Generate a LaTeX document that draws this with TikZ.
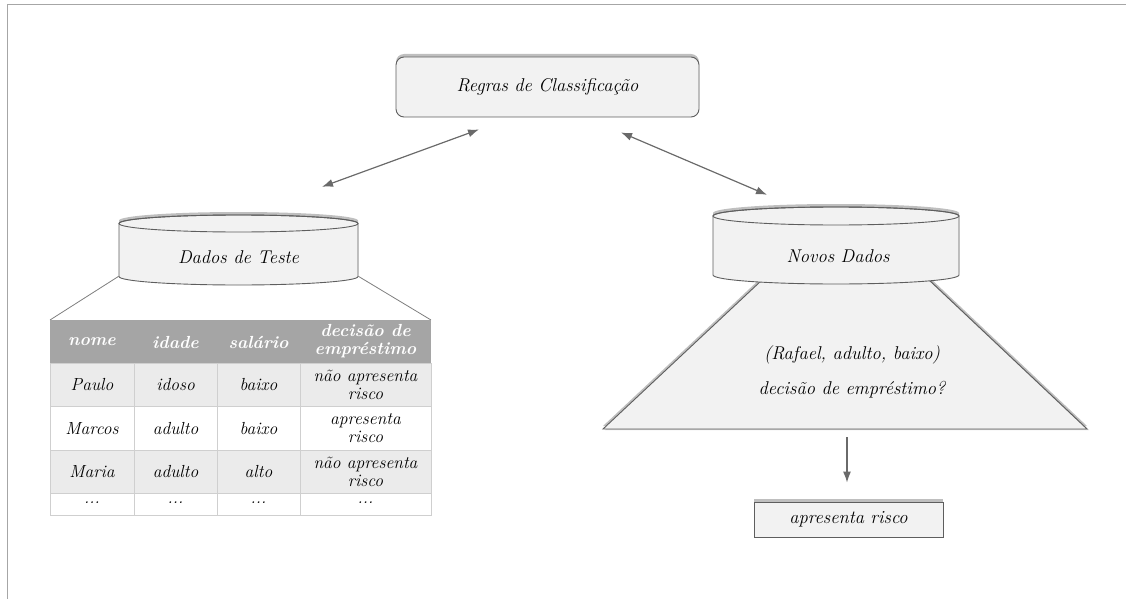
\documentclass[tikz,border=0pt]{standalone}
\usetikzlibrary{arrows.meta,shadows}

\definecolor{linegray}{HTML}{5E5E5E}
\definecolor{boxfill}{HTML}{F2F2F2}
\definecolor{headgray}{HTML}{A5A5A5}
\definecolor{rowgray}{HTML}{EBEBEB}
\definecolor{gridgray}{HTML}{CFCFCF}
\definecolor{arrowgray}{HTML}{6A6A6A}

\tikzset{
  topshadow/.style={drop shadow={shadow xshift=0pt,shadow yshift=3pt,
      fill=black,opacity=.25}},
  roundbox/.style={draw=linegray,fill=boxfill,line width=0.9pt,
      rounded corners=8pt,topshadow},
  resultbox/.style={draw=linegray,fill=boxfill,line width=0.9pt,topshadow},
  cylbody/.style={draw=linegray,fill=boxfill,line width=0.9pt,topshadow},
  dblarrow/.style={arrowgray,line width=1.2pt,
      {Latex[length=11pt,width=8pt]}-{Latex[length=11pt,width=8pt]}},
  onearrow/.style={arrowgray,line width=1.2pt,-{Latex[length=11pt,width=8pt]}},
  cell/.style={font=\itshape\fontsize{17.5}{18}\selectfont,align=center,inner sep=0pt},
  headcell/.style={cell,text=white,font=\bfseries\itshape\fontsize{17.5}{18}\selectfont}
}

\begin{document}
\begin{tikzpicture}[x=1pt,y=1pt,
    every node/.style={font=\itshape\fontsize{18.5}{20}\selectfont,text=black}]
  \useasboundingbox (0,-599) rectangle (1126,0);

  % page frame (top and left only)
  \draw[gray!70,line width=1pt] (7,-599) -- (7,-5) -- (1126,-5);

  % rules box
  \node[roundbox,minimum width=303pt,minimum height=60pt] (regras)
    at (547.5,-87) {Regras de Classifica\c{c}\~ao};

  % test data cylinder
  \draw[cylbody] (119,-223.5) -- (119,-276.5)
    arc[start angle=180,end angle=360,x radius=119.5,y radius=8.5]
    -- (358,-223.5)
    arc[start angle=0,end angle=180,x radius=119.5,y radius=8.5] -- cycle;
  \draw[linegray,line width=0.9pt] (238.5,-223.5) ellipse[x radius=119.5,y radius=8.5];
  \node[minimum width=239pt,minimum height=70pt] (teste) at (238.5,-250) {};
  \node (testetxt) at (238.5,-257) {Dados de Teste};

  % table
  \coordinate (tabNW) at (50,-320);
  \coordinate (tabNE) at (431,-320);
  \draw[linegray!80,line width=0.8pt] ([yshift=9pt]teste.south west) -- (tabNW);
  \draw[linegray!80,line width=0.8pt] ([yshift=9pt]teste.south east) -- (tabNE);
  \fill[headgray] (50,-320) rectangle (431,-363);
  \fill[rowgray] (50,-363) rectangle (431,-406.5);
  \fill[rowgray] (50,-450) rectangle (431,-493);
  \foreach \ya in {-363,-406.5,-450,-493}
    \draw[gridgray,line width=0.8pt] (50,\ya) -- (431,\ya);
  \foreach \xa in {134,217,300}
    \draw[gridgray,line width=0.8pt] (\xa,-363) -- (\xa,-515);
  \draw[gridgray,line width=0.8pt] (50,-363) -- (50,-515) -- (431,-515) -- (431,-363);

  \node[headcell] (h1) at (92,-342) {nome};
  \node[headcell] (h2) at (175.5,-342) {idade};
  \node[headcell] (h3) at (258.5,-342) {sal\'ario};
  \node[headcell] (h4) at (365.5,-341.5) {decis\~ao de\\empr\'estimo};

  \foreach \r/\ya/\na/\ia/\sa/\da in {
      1/-385/Paulo/idoso/baixo/{n\~ao apresenta\\risco},
      2/-428.5/Marcos/adulto/baixo/{apresenta\\risco},
      3/-471.5/Maria/adulto/alto/{n\~ao apresenta\\risco},
      4/-503/{...}/{...}/{...}/{...}} {
    \node[cell] (c\r-1) at (92,\ya) {\na};
    \node[cell] (c\r-2) at (175.5,\ya) {\ia};
    \node[cell] (c\r-3) at (258.5,\ya) {\sa};
    \node[cell] (c\r-4) at (365.5,\ya) {\da};
  }

  % new data: funnel, then cylinder on top
  \draw[cylbody,drop shadow={shadow xshift=2pt,shadow yshift=-1pt,fill=black,opacity=.2}]
    (762,-280) -- (929,-280) -- (1087,-429) -- (603,-429) -- cycle;
  \coordinate (trapbot) at (847,-429);
  \draw[cylbody] (713,-216) -- (713,-275)
    arc[start angle=180,end angle=360,x radius=123,y radius=9]
    -- (959,-216)
    arc[start angle=0,end angle=180,x radius=123,y radius=9] -- cycle;
  \draw[linegray,line width=0.9pt] (836,-216) ellipse[x radius=123,y radius=9];
  \node[minimum width=246pt,minimum height=77pt] (novos) at (836,-245.5) {};
  \node (novostxt) at (838,-256) {Novos Dados};

  \node (q1) at (852,-355) {(Rafael, adulto, baixo)};
  \node (q2) at (852,-390) {decis\~ao de empr\'estimo?};

  % result
  \node[resultbox,minimum width=189pt,minimum height=35pt] (result)
    at (848.5,-519.5) {apresenta risco};

  % connectors
  \draw[dblarrow] ([xshift=-68.5pt,yshift=-12pt]regras.south)
    -- ([xshift=83.5pt,yshift=28pt]teste.north);
  \draw[dblarrow] ([xshift=73.5pt,yshift=-15pt]regras.south)
    -- ([xshift=-69pt,yshift=12pt]novos.north);
  \draw[onearrow] ([yshift=-8pt]trapbot) -- ([xshift=-1.5pt,yshift=19pt]result.north);
\end{tikzpicture}
\end{document}
